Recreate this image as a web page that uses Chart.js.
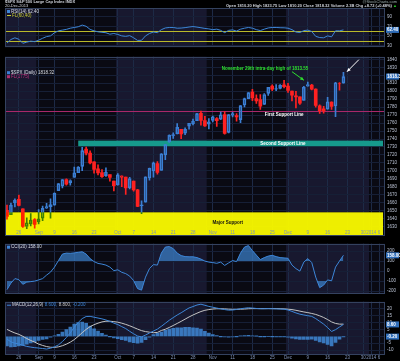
<!DOCTYPE html>
<html><head><meta charset="utf-8">
<script src="https://cdn.jsdelivr.net/npm/chart.js@4.4.1/dist/chart.umd.min.js"></script>
<style>
html,body{margin:0;padding:0;background:#000;width:400px;height:361px;overflow:hidden}
body{position:relative;font-family:"Liberation Sans",Arial,sans-serif}
canvas{position:absolute;left:0}
.t{position:absolute;white-space:nowrap;font-size:4px;line-height:4px;color:#d0d4dc;z-index:5}
</style></head><body>
<canvas id="cRsi" width="400" height="52" style="top:0"></canvas>
<canvas id="cMain" width="400" height="188" style="top:52px"></canvas>
<canvas id="cCci" width="400" height="59" style="top:239px"></canvas>
<canvas id="cMacd" width="400" height="64" style="top:297px"></canvas>
<div class="t" style="left:5px;top:0px;font-weight:bold">$SPX S&amp;P 500 Large Cap Index INDX</div>
<div class="t" style="left:5px;top:4px">20-Dec-2013</div>
<div class="t" style="right:3px;top:0px;color:#9aa">@StockCharts.com</div>
<div class="t" style="right:3px;top:4px;font-weight:bold">Open 1810.20 High 1823.75 Low 1810.20 Close 1818.32 Volume 2.3B Chg +8.72 (+0.48%) <span style="color:#2c2">&#9650;</span></div>
<script>
const dates = ['2013-08-21','2013-08-22','2013-08-23','2013-08-26','2013-08-27','2013-08-28','2013-08-29','2013-08-30',
'2013-09-03','2013-09-04','2013-09-05','2013-09-06','2013-09-09','2013-09-10','2013-09-11','2013-09-12','2013-09-13','2013-09-16','2013-09-17','2013-09-18','2013-09-19','2013-09-20','2013-09-23','2013-09-24','2013-09-25','2013-09-26','2013-09-27','2013-09-30',
'2013-10-01','2013-10-02','2013-10-03','2013-10-04','2013-10-07','2013-10-08','2013-10-09','2013-10-10','2013-10-11','2013-10-14','2013-10-15','2013-10-16','2013-10-17','2013-10-18','2013-10-21','2013-10-22','2013-10-23','2013-10-24','2013-10-25','2013-10-28','2013-10-29','2013-10-30','2013-10-31',
'2013-11-01','2013-11-04','2013-11-05','2013-11-06','2013-11-07','2013-11-08','2013-11-11','2013-11-12','2013-11-13','2013-11-14','2013-11-15','2013-11-18','2013-11-19','2013-11-20','2013-11-21','2013-11-22','2013-11-25','2013-11-26','2013-11-27','2013-11-29',
'2013-12-02','2013-12-03','2013-12-04','2013-12-05','2013-12-06','2013-12-09','2013-12-10','2013-12-11','2013-12-12','2013-12-13','2013-12-16','2013-12-17','2013-12-18','2013-12-19','2013-12-20',
'2013-12-23','2013-12-24','2013-12-26','2013-12-27','2013-12-30','2013-12-31','2014-01-02','2014-01-03','2014-01-06','2014-01-07'];

const opens = [1650.66,1645.03,1659.92,1664.29,1652.54,1630.25,1633.50,1638.89,
1635.95,1640.72,1653.28,1657.44,1656.85,1675.11,1681.04,1689.21,1685.04,1691.70,1697.73,1705.74,1727.34,1722.44,1711.44,1702.60,1698.02,1694.05,1695.52,1687.26,
1682.41,1691.90,1692.35,1678.79,1687.15,1676.22,1656.99,1660.88,1691.09,1699.86,1709.17,1700.49,1720.17,1736.72,1745.20,1746.48,1752.27,1747.48,1756.01,1759.42,1762.93,1772.27,1763.24,
1758.70,1763.40,1765.67,1765.00,1770.74,1748.37,1769.96,1769.51,1764.37,1782.75,1790.66,1798.82,1790.79,1789.59,1783.52,1797.21,1806.33,1802.87,1803.48,1808.01,
1806.55,1800.10,1794.08,1792.82,1788.36,1806.21,1807.60,1802.76,1781.71,1777.98,1777.48,1786.47,1781.46,1809.00,1810.20];
const highs = [1656.99,1659.55,1664.85,1669.51,1652.54,1641.18,1646.41,1640.08,
1651.35,1655.72,1659.17,1664.83,1672.40,1684.09,1689.13,1689.97,1688.73,1704.95,1705.52,1729.44,1729.86,1725.23,1711.44,1707.63,1701.71,1703.85,1695.52,1687.26,
1696.55,1693.87,1692.35,1691.94,1687.15,1676.79,1662.47,1692.56,1703.44,1711.03,1711.57,1721.76,1733.45,1745.31,1747.79,1759.33,1752.27,1753.94,1759.82,1764.99,1772.09,1775.22,1768.53,
1765.67,1768.78,1767.03,1773.74,1774.54,1770.78,1773.44,1771.78,1782.00,1791.53,1798.22,1802.33,1795.51,1795.73,1797.16,1804.84,1808.10,1808.42,1808.27,1813.55,
1810.02,1800.10,1799.80,1792.82,1806.04,1811.52,1808.52,1802.97,1782.99,1780.92,1792.22,1786.77,1811.08,1810.88,1823.75];
const lows = [1639.43,1645.03,1654.81,1656.02,1629.05,1627.47,1630.88,1628.05,
1633.41,1637.41,1653.07,1640.62,1656.85,1675.11,1678.70,1681.96,1682.22,1691.70,1697.73,1700.35,1720.20,1708.89,1697.10,1694.90,1691.88,1693.11,1687.11,1674.99,
1682.07,1680.34,1670.36,1677.33,1674.70,1655.03,1646.47,1660.88,1688.52,1692.13,1695.93,1700.49,1714.12,1735.74,1740.67,1746.48,1740.50,1745.50,1752.45,1757.67,1762.93,1757.24,1755.72,
1752.70,1761.56,1755.76,1764.40,1746.20,1747.63,1767.85,1762.29,1760.64,1780.22,1790.66,1788.00,1784.72,1777.23,1783.52,1794.70,1800.58,1800.77,1802.77,1803.98,
1798.60,1787.85,1779.09,1783.38,1788.36,1806.21,1801.75,1780.09,1772.28,1772.45,1777.48,1777.05,1767.99,1801.35,1810.20];
const closes = [1642.80,1656.96,1663.50,1656.78,1630.48,1634.96,1638.17,1632.97,
1639.77,1653.08,1655.08,1655.17,1671.71,1683.99,1689.13,1683.42,1687.99,1697.60,1704.76,1725.52,1722.34,1709.91,1701.84,1697.42,1692.77,1698.67,1691.75,1681.55,
1695.00,1693.87,1678.66,1690.50,1676.12,1655.45,1656.40,1692.56,1703.20,1710.14,1698.06,1721.54,1733.15,1744.50,1744.66,1754.67,1746.38,1752.07,1759.77,1762.11,1771.95,1763.31,1756.54,
1761.64,1767.93,1762.97,1770.49,1747.15,1770.61,1771.89,1767.69,1782.00,1790.62,1798.18,1791.53,1787.87,1781.37,1795.85,1804.76,1802.48,1802.75,1807.23,1805.81,
1800.90,1795.15,1792.81,1785.03,1805.09,1808.37,1802.62,1782.22,1775.50,1775.32,1786.54,1781.00,1810.65,1809.60,1818.32];
const prevClose = 1652.35;

const rsi = [35,42.5,46,43,34.5,37,39,38,41,45,48.5,50,56.5,60.5,62,63.5,66,67.5,69,72.5,
70,63.5,60.5,58.5,57.5,56.5,53.5,55,53,50,49,50.5,46,40.5,40.8,50,55,58,56.7,63,
66.5,67.5,67.5,66,66.3,67.2,68.5,69.4,68.3,67,65.5,64.5,63,64,61.5,56.7,61.5,62.5,60,64,
66,67.5,66,63,61,64,66.5,67.5,67.5,67,66.8,66,63,58,57,61,62,59,49,46.5,46,50,48,60.5,60.5,62.4];
const cci = [-185,-120,-75,-85,-132,-110,-105,-100,-88,-75,-40,-10,40,105,170,180,178,182,188,193,
170,125,95,77,70,60,40,5,13,-12,-25,-50,-95,-175,-190,-60,25,65,60,180,
240,245,225,180,155,145,143,143,135,120,100,90,85,78,90,57,82,105,95,180,
240,255,205,160,115,135,150,158,145,135,132,128,60,25,0,90,125,85,-60,-165,-140,-88,-97,40,100,158];
const macd = [-2,-4,-5,-5.5,-6.5,-7.3,-7.8,-8.2,-8.5,-8.8,-9.2,-8.6,-7.6,-6.2,-3.8,-0.9,2.5,6.5,10.0,12.8,
14.3,14.4,13.8,13.2,12.6,11.8,10.8,9.5,8.5,7.0,5.6,3.6,1.8,0.2,-0.4,0.9,2.4,3.8,5.2,7.2,
9.4,11.6,13.5,15.4,17.0,18.8,20.5,21.5,22.6,23.2,22.4,21.6,21.0,20.4,19.8,19.3,18.9,19.0,19.4,19.9,
20.3,20.6,20.4,20.1,19.9,19.9,20.0,19.9,19.8,19.7,19.6,19.0,18.0,16.9,16.0,15.4,14.9,14.4,12.8,10.8,8.8,6.3,3.5,4.8,6.7,8.6];
const signal = [5.0,3.6,2.4,1.4,0.0,-1.6,-3.0,-4.2,-5.6,-6.6,-7.4,-7.9,-8.0,-7.6,-6.8,-5.7,-4.2,-2.4,0.0,2.6,
5.0,7.0,8.4,9.5,10.4,10.9,10.9,10.6,10.2,9.5,8.6,7.6,6.4,5.2,4.1,3.4,3.0,2.6,2.8,4.2,
5.1,6.4,7.8,9.3,10.8,12.4,14.0,15.4,16.7,17.9,18.8,19.3,19.7,19.9,19.9,19.8,19.6,19.5,19.5,19.6,
19.7,19.9,20.0,20.0,20.0,20.0,20.0,20.0,20.0,19.9,19.8,19.6,19.3,18.8,18.2,17.6,17.1,16.5,15.8,14.8,13.6,12.1,10.4,9.3,8.8,8.8];
const hist = [-7.0,-7.6,-7.4,-6.9,-6.5,-5.7,-4.8,-4.0,-2.9,-2.2,-1.8,-0.7,0.4,1.4,3.0,4.8,6.7,8.9,10.0,10.2,
9.3,7.4,5.4,3.7,2.2,0.9,-0.1,-1.1,-1.7,-2.5,-3.0,-4.0,-4.6,-5.0,-4.5,-2.5,-0.6,1.2,2.4,3.0,
4.3,5.2,5.7,6.1,6.2,6.4,6.5,6.1,5.9,5.3,3.6,2.3,1.3,0.5,-0.1,-0.5,-0.7,-0.5,-0.1,0.3,
0.6,0.7,0.4,0.1,-0.1,-0.1,0.0,-0.1,-0.2,-0.2,-0.2,-0.6,-1.3,-1.9,-2.2,-2.2,-2.2,-2.1,-3.0,-4.0,-4.8,-5.8,-6.9,-4.5,-2.1,-0.2];

const tickDates = ['2013-08-26','2013-09-03','2013-09-09','2013-09-16','2013-09-23','2013-10-01','2013-10-07','2013-10-14','2013-10-21','2013-10-28','2013-11-04','2013-11-11','2013-11-18','2013-11-25','2013-12-02','2013-12-09','2013-12-16','2013-12-23','2013-12-30','2014-01-02','2014-01-06'];
const tickTexts = ['26','Sep','9','16','23','Oct','7','14','21','28','Nov','11','18','25','Dec','9','16','23','30','2014','6'];
const priceTicks = [1630,1640,1650,1660,1670,1680,1690,1700,1710,1720,1730,1740,1750,1760,1770,1780,1790,1800,1810,1820,1830,1840];
const rsiTicks = [30,50,70,90];
const cciTicks = [-200,-100,0,100,200];
const macdTicks = [-10,-5,0,5,10,15,20];
const rsiLevels = [60,40];
const firstSupport = 1775;
const secondSupport = [1731,1738];
const secondSupportStart = '2013-09-17';
const majorSupport = [1600,1648];

const F = '"Liberation Sans", Arial, sans-serif';
const NAVY='#18182f', DARK='#0a0a13', GRID='#1d2a46', HGRID='#161f36', BORDER='#34425f';
const UP='#3b7fd4', DOWN='#ff2121', LINE='#3d86d8';
const tickIndex = new Map(tickDates.map((d,k)=>[dates.indexOf(d), tickTexts[k]]));

const shade = {id:'shade',
  beforeDraw(ch){
    const {ctx, chartArea:a, scales:{x}} = ch;
    const half = x.width/dates.length/2;
    ctx.save();
    let s = 0;
    for(let i=1;i<=dates.length;i++){
      if(i===dates.length || dates[i].slice(0,7)!==dates[s].slice(0,7)){
        const m = +dates[s].slice(5,7);
        const l = s===0 ? a.left : x.getPixelForValue(s)-half;
        const r = i===dates.length ? a.right : x.getPixelForValue(i-1)+half;
        ctx.fillStyle = m%2===0 ? NAVY : DARK;
        ctx.fillRect(l, a.top, r-l, a.bottom-a.top);
        s = i;
      }
    }
    ctx.restore();
  },
  afterDraw(ch){
    const {ctx, chartArea:a} = ch;
    ctx.save(); ctx.strokeStyle=BORDER; ctx.lineWidth=1;
    ctx.strokeRect(Math.round(a.left)+0.5, Math.round(a.top)+0.5, Math.round(a.width)-1, Math.round(a.height)-1);
    ctx.restore();
  }
};
const hl = {id:'hl', afterDraw(ch, args, o){
  const {ctx, chartArea:a, scales:{y}} = ch;
  ctx.save(); ctx.font='bold 4.5px '+F; ctx.textBaseline='middle';
  (o.items||[]).forEach(it=>{
    const py = y.getPixelForValue(it.v);
    ctx.fillStyle = it.bg; ctx.fillRect(a.right+1, py-3, 400-a.right-2, 6);
    ctx.fillStyle = it.fg||'#fff'; ctx.fillText(it.text, a.right+2, py+0.3);
  });
  ctx.restore();
}};
const leg = {id:'leg', afterDraw(ch, args, o){
  const {ctx, chartArea:a} = ch;
  ctx.save(); ctx.font='4.5px '+F; ctx.textBaseline='middle';
  (o.rows||[]).forEach(r=>{
    let x = a.left+2; const y = a.top + r.dy;
    if(r.icon){ ctx.fillStyle=r.icon; ctx.fillRect(x, y-1.5, 3, 3); x += 4; }
    if(r.dash){ ctx.fillStyle=r.dash; ctx.fillRect(x, y-0.5, 4, 1); x += 5; }
    r.parts.forEach(p=>{ ctx.fillStyle=p.c; ctx.fillText(p.t, x, y); x += ctx.measureText(p.t).width + 1.5; });
  });
  ctx.restore();
}};
const levels = {id:'levels', beforeDatasetsDraw(ch, args, o){
  const {ctx, chartArea:a, scales:{y}} = ch;
  ctx.save(); ctx.strokeStyle=o.color; ctx.lineWidth=1;
  (o.values||[]).forEach(v=>{ const py=Math.round(y.getPixelForValue(v))+0.5; ctx.beginPath(); ctx.moveTo(a.left,py); ctx.lineTo(a.right,py); ctx.stroke(); });
  ctx.restore();
}};

function xScale(labelsShown, mirror, pad, h){
  return {type:'category', offset:true,
    grid:{offset:false, drawTicks:false, color:c=> tickIndex.has(c.index) ? GRID : 'rgba(0,0,0,0)'},
    border:{display:false},
    ticks:{display:labelsShown, mirror:mirror, autoSkip:false, maxRotation:0, minRotation:0, padding:pad, z:1,
      font:{size:4.5, family:F}, color:'#8093b8', callback:(v,i)=> tickIndex.get(i) || ''},
    afterFit:s=>{ s.height = h; }
  };
}
function yScale(min, max, ticksArr, fmt){
  return {position:'right', min, max,
    afterBuildTicks:s=>{ s.ticks = ticksArr.map(v=>({value:v})); },
    grid:{color:HGRID, drawTicks:false}, border:{display:false},
    ticks:{font:{size:4.5, family:F}, color:'#b9c1d2', padding:2, callback:fmt},
    afterFit:s=>{ s.width = 15; }
  };
}
const base = {responsive:false, animation:false, events:[], maintainAspectRatio:false};

// RSI
new Chart(document.getElementById('cRsi'), {
  type:'line',
  data:{labels:dates, datasets:[{data:rsi, borderColor:LINE, borderWidth:1, pointRadius:0, tension:0}]},
  options:{...base, layout:{padding:{left:5,right:0,top:8,bottom:1}},
    scales:{x:xScale(false,false,0,0), y:yScale(26.2,108.1,rsiTicks,v=>v)},
    plugins:{legend:{display:false}, tooltip:{enabled:false},
      levels:{values:rsiLevels, color:'#b9b92a'},
      hl:{items:[{v:rsi[rsi.length-1], text:rsi[rsi.length-1].toFixed(2), bg:'#2f6db8'}]},
      leg:{rows:[{dy:3.5, icon:LINE, parts:[{t:'RSI(14) '+rsi[rsi.length-1].toFixed(2), c:'#d8dce4'}]},
                 {dy:7.5, dash:'#c8c832', parts:[{t:'FL(60,40)', c:'#c8c832'}]}]}}
  },
  plugins:[shade, levels, hl, leg]
});

// Main candlesticks
const colorOf = closes.map((c,i)=> c >= (i ? closes[i-1] : prevClose) ? UP : DOWN);
const hollow = closes.map((c,i)=> c > opens[i]);
const bodyData = opens.map((o,i)=>[Math.min(o,closes[i]), Math.max(o,closes[i])]);
const upperWick = opens.map((o,i)=>[Math.max(o,closes[i]), highs[i]]);
const lowerWick = opens.map((o,i)=>[lows[i], Math.min(o,closes[i])]);

const annot = {id:'annot',
  beforeDatasetsDraw(ch){
    const {ctx, chartArea:a, scales:{x,y}} = ch;
    ctx.save();
    const fy = Math.round(y.getPixelForValue(firstSupport))+0.5;
    ctx.strokeStyle='#a8286a'; ctx.lineWidth=1; ctx.beginPath(); ctx.moveTo(a.left,fy); ctx.lineTo(a.right,fy); ctx.stroke();
    const sx = x.getPixelForValue(dates.indexOf(secondSupportStart));
    const t1 = y.getPixelForValue(secondSupport[1]), b1 = y.getPixelForValue(secondSupport[0]);
    ctx.fillStyle='#169a8c'; ctx.fillRect(sx, t1, a.right-2-sx, b1-t1);
    const t2 = y.getPixelForValue(majorSupport[1]);
    ctx.fillStyle='rgba(255,255,0,0.93)'; ctx.fillRect(a.left, t2, a.width-2, a.bottom-t2);
    ctx.restore();
  },
  afterDatasetsDraw(ch){
    const {ctx, chartArea:a, scales:{x,y}} = ch;
    ctx.save();
    const t2 = y.getPixelForValue(majorSupport[1]);
    ctx.globalCompositeOperation='multiply';
    ctx.fillStyle='rgb(255,255,0)'; ctx.fillRect(a.left, t2, a.width-2, a.bottom-t2);
    ctx.globalCompositeOperation='source-over';
    const P = (i,p)=>[x.getPixelForValue(i), y.getPixelForValue(p)];
    ctx.textAlign='center'; ctx.textBaseline='middle';
    ctx.font='bold 4.5px '+F;
    let q = P(65.2,1828.2); ctx.fillStyle='#2ee02e'; ctx.fillText('November 29th intra-day high of 1813.55', q[0], q[1]);
    q = P(70.0,1770.4); ctx.fillStyle='#ffffff'; ctx.fillText('First Support Line', q[0], q[1]);
    q = P(69.7,1734.5); ctx.fillStyle='#ffffff'; ctx.fillText('Second Support Line', q[0], q[1]);
    q = P(55.8,1635.4); ctx.fillStyle='#111111'; ctx.fillText('Major Support', q[0], q[1]);
    const arrow = (f,t,col)=>{
      ctx.strokeStyle=col; ctx.fillStyle=col; ctx.lineWidth=1;
      ctx.beginPath(); ctx.moveTo(f[0],f[1]); ctx.lineTo(t[0],t[1]); ctx.stroke();
      const ang = Math.atan2(t[1]-f[1], t[0]-f[0]);
      ctx.beginPath(); ctx.moveTo(t[0],t[1]);
      ctx.lineTo(t[0]-4*Math.cos(ang-0.45), t[1]-4*Math.sin(ang-0.45));
      ctx.lineTo(t[0]-4*Math.cos(ang+0.45), t[1]-4*Math.sin(ang+0.45));
      ctx.closePath(); ctx.fill();
    };
    arrow(P(72.0,1824.5), P(75.0,1813.8), '#2ee02e');
    arrow(P(88.9,1839.6), P(85.9,1824.5), '#ffffff');
    ctx.restore();
  }
};

new Chart(document.getElementById('cMain'), {
  type:'bar',
  data:{labels:dates, datasets:[
    {data:upperWick, backgroundColor:colorOf, barThickness:1, grouped:false, order:3},
    {data:lowerWick, backgroundColor:colorOf, barThickness:1, grouped:false, order:2},
    {data:bodyData, backgroundColor:hollow.map((h,i)=> h ? 'rgba(0,0,0,0)' : colorOf[i]), borderColor:colorOf,
     borderWidth:hollow.map(h=> h ? 1 : 0), borderSkipped:false, barThickness:3, grouped:false, order:1}
  ]},
  options:{...base, layout:{padding:{left:5,right:0,top:1,bottom:1}},
    scales:{x:xScale(true,true,0,0), y:yScale(1619.2,1843.3,priceTicks,v=>v)},
    plugins:{legend:{display:false}, tooltip:{enabled:false},
      hl:{items:[{v:closes[closes.length-1], text:closes[closes.length-1].toFixed(2), bg:'#2f6db8'}]},
      leg:{rows:[{dy:16, icon:UP, parts:[{t:'$SPX (Daily) '+closes[closes.length-1].toFixed(2), c:'#d8dce4'}]},
                 {dy:20, icon:'#b0306e', parts:[{t:'FL(1775)', c:'#c0307a'}]}]}}
  },
  plugins:[shade, annot, hl, leg]
});

// CCI
new Chart(document.getElementById('cCci'), {
  type:'line',
  data:{labels:dates, datasets:[
    {data:cci, borderColor:LINE, borderWidth:1, pointRadius:0, fill:{target:{value:100}, above:'rgba(58,124,196,0.75)', below:'rgba(0,0,0,0)'}},
    {data:cci, borderColor:'rgba(0,0,0,0)', borderWidth:0, pointRadius:0, fill:{target:{value:-100}, above:'rgba(0,0,0,0)', below:'rgba(58,124,196,0.75)'}}
  ]},
  options:{...base, layout:{padding:{left:5,right:0,top:1,bottom:1}},
    scales:{x:xScale(false,false,0,0), y:yScale(-221.7,273.9,cciTicks,v=>v)},
    plugins:{legend:{display:false}, tooltip:{enabled:false},
      hl:{items:[{v:cci[cci.length-1], text:cci[cci.length-1].toFixed(2), bg:'#2f6db8'}]},
      leg:{rows:[{dy:3.5, icon:LINE, parts:[{t:'CCI(20) '+cci[cci.length-1].toFixed(2), c:'#d8dce4'}]}]}}
  },
  plugins:[shade, hl, leg]
});

// MACD
new Chart(document.getElementById('cMacd'), {
  type:'bar',
  data:{labels:dates, datasets:[
    {type:'line', data:macd, borderColor:LINE, borderWidth:1, pointRadius:0, order:1},
    {type:'line', data:signal, borderColor:'#c4c4c4', borderWidth:1, pointRadius:0, order:2},
    {type:'bar', data:hist, backgroundColor:'rgba(64,136,214,0.85)', barThickness:3, order:3}
  ]},
  options:{...base, layout:{padding:{left:5,right:0,top:1,bottom:0}},
    scales:{x:xScale(true,false,0,6), y:yScale(-13.5,25.0,macdTicks,v=>v)},
    plugins:{legend:{display:false}, tooltip:{enabled:false},
      hl:{items:[{v:macd[macd.length-1], text:macd[macd.length-1].toFixed(2), bg:'#2f6db8'},{v:hist[hist.length-1], text:hist[hist.length-1].toFixed(2), bg:'#2f6db8'}]},
      leg:{rows:[{dy:3.5, dash:LINE, parts:[{t:'MACD(12,26,9)', c:'#d8dce4'},{t:macd[macd.length-1].toFixed(3)+',', c:LINE},{t:signal[signal.length-1].toFixed(3)+',', c:'#c4c4c4'},{t:hist[hist.length-1].toFixed(3), c:LINE}]}]}}
  },
  plugins:[shade, hl, leg]
});
</script>
</body></html>
